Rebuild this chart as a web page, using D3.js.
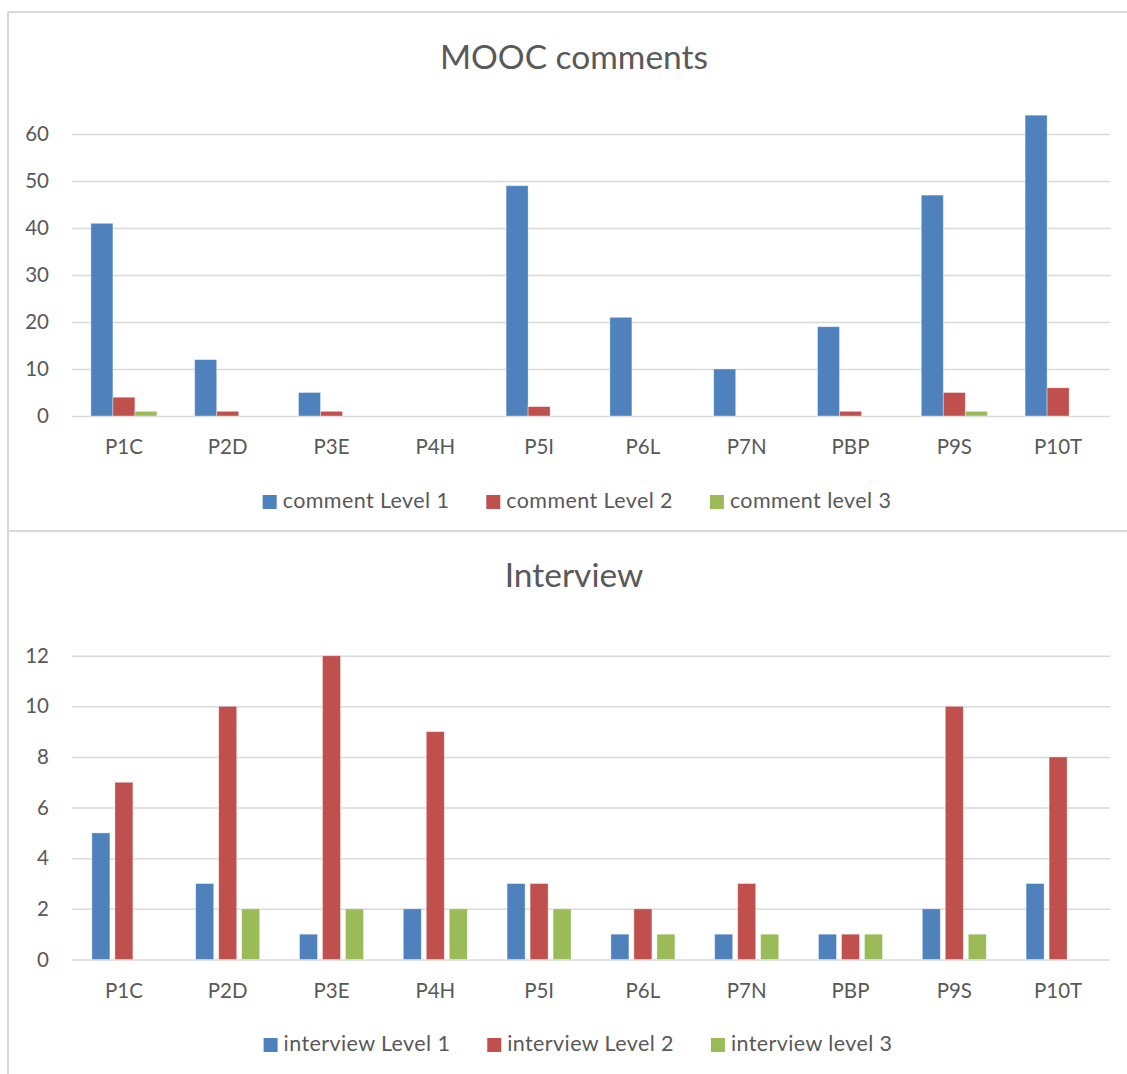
<!DOCTYPE html>
<html>
<head>
<meta charset="utf-8">
<script src="https://cdn.jsdelivr.net/npm/d3@7/dist/d3.min.js"></script>
<style>
  html, body { margin: 0; padding: 0; background: #ffffff; }
  svg { display: block; }
  text { font-family: Lato, "Open Sans", sans-serif; fill: #595959; }
</style>
</head>
<body>
<svg id="chart" width="1127" height="1074"></svg>
<script>
// ---- data ----
const categories = ["P1C", "P2D", "P3E", "P4H", "P5I", "P6L", "P7N", "PBP", "P9S", "P10T"];

const commentSeriesNames = ["comment Level 1", "comment Level 2", "comment level 3"];
const commentLevel1 = [41, 12, 5, 0, 49, 21, 10, 19, 47, 64];
const commentLevel2 = [4, 1, 1, 0, 2, 0, 0, 1, 5, 6];
const commentLevel3 = [1, 0, 0, 0, 0, 0, 0, 0, 1, 0];
const commentTicks = [0, 10, 20, 30, 40, 50, 60];

const interviewSeriesNames = ["interview Level 1", "interview Level 2", "interview level 3"];
const interviewLevel1 = [5, 3, 1, 2, 3, 1, 1, 1, 2, 3];
const interviewLevel2 = [7, 10, 12, 9, 3, 2, 3, 1, 10, 8];
const interviewLevel3 = [0, 2, 2, 2, 2, 1, 1, 1, 1, 0];
const interviewTicks = [0, 2, 4, 6, 8, 10, 12];

const seriesColors = ["#4F81BD", "#C0504D", "#9BBB59"];

// ---- drawing ----
const svg = d3.select("#chart");
const gridColor = "#d9d9d9";
const labelSize = 20.5;
const legendSize = 21.5;

// frame lines
svg.append("line").attr("x1", 8).attr("x2", 8).attr("y1", 12).attr("y2", 1074)
  .attr("stroke", gridColor).attr("stroke-width", 2);
svg.append("line").attr("x1", 8).attr("x2", 1127).attr("y1", 12).attr("y2", 12)
  .attr("stroke", gridColor).attr("stroke-width", 2);
svg.append("line").attr("x1", 8).attr("x2", 1127).attr("y1", 531).attr("y2", 531)
  .attr("stroke", gridColor).attr("stroke-width", 2);

function drawChart(cfg) {
  const g = svg.append("g");
  const x0 = d3.scaleBand().domain(categories).range([cfg.left, cfg.right]).paddingInner(0).paddingOuter(0);
  const y = d3.scaleLinear().domain([0, cfg.ticks[cfg.ticks.length - 1]]).range([cfg.zeroY, cfg.topY]);
  const x1 = d3.scaleBand().domain(d3.range(cfg.series.length))
    .range([-cfg.groupWidth / 2, cfg.groupWidth / 2]).paddingInner(cfg.innerPad).paddingOuter(0);

  // title
  g.append("text").attr("x", cfg.titleX).attr("y", cfg.titleY)
    .attr("text-anchor", "middle").style("font-size", cfg.titleSize + "px").text(cfg.title);

  // y axis with gridlines
  const yAxis = d3.axisLeft(y).tickValues(cfg.ticks)
    .tickSizeInner(-(cfg.right - cfg.left)).tickSizeOuter(0).tickPadding(23);
  const ya = g.append("g").attr("transform", `translate(${cfg.left},0)`).call(yAxis);
  ya.select(".domain").remove();
  ya.selectAll(".tick line").attr("stroke", gridColor).attr("stroke-width", 1.5);
  ya.selectAll(".tick text").attr("fill", "#595959")
    .style("font-size", labelSize + "px").style("font-family", "Lato, 'Open Sans', sans-serif");

  // bars
  cfg.series.forEach((vals, si) => {
    g.append("g").selectAll("rect").data(vals).join("rect")
      .attr("x", (d, i) => x0(categories[i]) + x0.bandwidth() / 2 + x1(si))
      .attr("width", x1.bandwidth())
      .attr("y", d => y(d))
      .attr("height", d => y(0) - y(d))
      .attr("fill", seriesColors[si])
      .attr("stroke", "#ffffff").attr("stroke-opacity", 0.45).attr("stroke-width", 0.8);
  });

  // x axis labels
  const xAxis = d3.axisBottom(x0).tickSize(0).tickPadding(0);
  const xa = g.append("g").attr("transform", `translate(0,${cfg.zeroY})`).call(xAxis);
  xa.select(".domain").remove();
  xa.selectAll(".tick text").attr("y", 38).attr("dy", 0).attr("fill", "#595959")
    .style("font-size", labelSize + "px").style("font-family", "Lato, 'Open Sans', sans-serif");

  // legend
  const leg = g.append("g");
  const items = cfg.names.map((n, i) => {
    const it = leg.append("g");
    it.append("rect").attr("width", 14).attr("height", 14).attr("y", -13).attr("fill", seriesColors[i]);
    const t = it.append("text").attr("x", 20).attr("y", 0)
      .style("font-size", legendSize + "px").style("letter-spacing", "0.4px").text(n);
    return { it, w: 20 + t.node().getComputedTextLength() };
  });
  const gap = 37;
  const total = d3.sum(items, d => d.w) + gap * (items.length - 1);
  let cx = cfg.legendCenter - total / 2;
  items.forEach(d => {
    d.it.attr("transform", `translate(${cx},${cfg.legendY})`);
    cx += d.w + gap;
  });
}

drawChart({
  title: "MOOC comments", titleX: 574, titleY: 69, titleSize: 33.5,
  left: 72, right: 1110, zeroY: 416, topY: 134, ticks: commentTicks,
  series: [commentLevel1, commentLevel2, commentLevel3], names: commentSeriesNames,
  groupWidth: 66, innerPad: 0,
  legendY: 508, legendCenter: 577
});

drawChart({
  title: "Interview", titleX: 574, titleY: 587, titleSize: 33.5,
  left: 72, right: 1110, zeroY: 959.5, topY: 655.7, ticks: interviewTicks,
  series: [interviewLevel1, interviewLevel2, interviewLevel3], names: interviewSeriesNames,
  groupWidth: 64, innerPad: 5 / 23,
  legendY: 1051, legendCenter: 578
});
</script>
</body>
</html>
